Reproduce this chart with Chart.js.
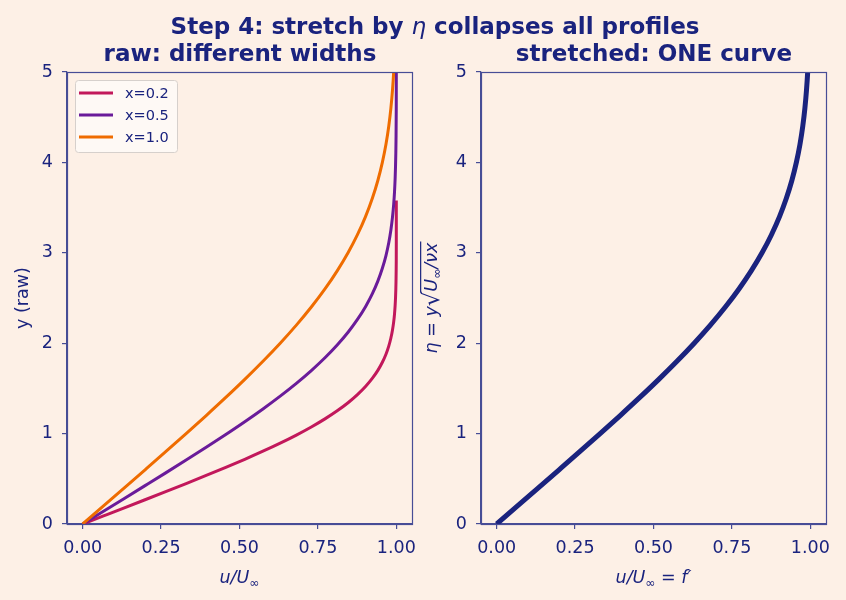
<!DOCTYPE html>
<html>
<head>
<meta charset="utf-8">
<script src="https://cdn.jsdelivr.net/npm/chart.js@4.4.1/dist/chart.umd.min.js"></script>
<style>
  html, body { margin: 0; padding: 0; background: #fdf0e6; }
  #fig { position: relative; width: 846px; height: 600px; background: #fdf0e6; overflow: hidden;
         font-family: 'DejaVu Sans', sans-serif; color: #1a237e; }
  #fig canvas { position: absolute; top: 0; }
  .ttl { position: absolute; font-weight: bold; white-space: nowrap; transform: translateX(-50%);
         font-size: 23px; line-height: 1; }
</style>
</head>
<body>
<div id="fig">
  <canvas id="rawChart" width="430" height="600" style="left:0"></canvas>
  <canvas id="etaChart" width="434" height="600" style="left:412px"></canvas>
  <div class="ttl" style="left:435px; top:15px">Step 4: stretch by <i style="font-weight:normal">η</i> collapses all profiles</div>
  <div class="ttl" style="left:240px; top:42px">raw: different widths</div>
  <div class="ttl" style="left:654px; top:42px">stretched: ONE curve</div>
</div>
<script>
// ── Data (Blasius profile) ──────────────────────────────────────────────────
const X_STATIONS     = ['x=0.2', 'x=0.5', 'x=1.0'];
const STATION_COLORS = ['#c2185b', '#6a1b9a', '#ef6c00'];

const ETA    = [0, 0.2, 0.4, 0.6, 0.8, 1.0, 1.2, 1.4, 1.6, 1.8, 2.0, 2.2, 2.4, 2.6, 2.8, 3.0, 3.2,
                3.4, 3.6, 3.8, 4.0, 4.2, 4.4, 4.6, 4.8, 5.0, 5.2, 5.4, 5.6, 5.8, 6.0, 6.5, 7.0, 8.0];
const FPRIME = [0, 0.0664, 0.1328, 0.1989, 0.2647, 0.3298, 0.3938, 0.4563, 0.5168, 0.5748, 0.6298,
                0.6813, 0.7290, 0.7725, 0.8115, 0.8461, 0.8761, 0.9018, 0.9233, 0.9411, 0.9555,
                0.9670, 0.9759, 0.9827, 0.9878, 0.9916, 0.9943, 0.9962, 0.9975, 0.9984, 0.9990,
                0.9998, 0.99996, 1.0];

// raw wall distance y for each station
const Y_X02 = [0, 0.0894, 0.1789, 0.2683, 0.3578, 0.4472, 0.5367, 0.6261, 0.7155, 0.8050, 0.8944,
               0.9839, 1.0733, 1.1628, 1.2522, 1.3416, 1.4311, 1.5205, 1.6100, 1.6994, 1.7889,
               1.8783, 1.9677, 2.0572, 2.1466, 2.2361, 2.3255, 2.4150, 2.5044, 2.5938, 2.6833,
               2.9069, 3.1305, 3.5777];
const Y_X05 = [0, 0.1414, 0.2828, 0.4243, 0.5657, 0.7071, 0.8485, 0.9900, 1.1314, 1.2728, 1.4142,
               1.5556, 1.6971, 1.8385, 1.9799, 2.1213, 2.2627, 2.4042, 2.5456, 2.6870, 2.8284,
               2.9698, 3.1113, 3.2527, 3.3941, 3.5355, 3.6770, 3.8184, 3.9598, 4.1012, 4.2426,
               4.5962, 4.9497, 5.6569];
const Y_X10 = [0, 0.2, 0.4, 0.6, 0.8, 1.0, 1.2, 1.4, 1.6, 1.8, 2.0, 2.2, 2.4, 2.6, 2.8, 3.0, 3.2,
               3.4, 3.6, 3.8, 4.0, 4.2, 4.4, 4.6, 4.8, 5.0, 5.2, 5.4, 5.6, 5.8, 6.0, 6.5, 7.0, 8.0];

const U_TICKS = [0, 0.25, 0.5, 0.75, 1.0];
const Y_TICKS = [0, 1, 2, 3, 4, 5];

// ── Style ────────────────────────────────────────────────────────────────────
const NAVY  = '#1a237e';
const SPINE = '#474d96';
const FONT  = "'DejaVu Sans'";
const TICK_SIZE = 17.5;

Chart.defaults.font.family = FONT;
Chart.defaults.font.size   = TICK_SIZE;
Chart.defaults.color       = NAVY;

// ── Helpers ──────────────────────────────────────────────────────────────────
function drawMath(ctx, parts, cx, cy, size, vertical) {
  ctx.save();
  ctx.translate(cx, cy);
  if (vertical) ctx.rotate(-Math.PI / 2);
  const fontOf = p => (p.it ? 'italic ' : '') + (size * (p.scale || 1)) + 'px ' + FONT;
  let total = 0;
  parts.forEach(p => { ctx.font = fontOf(p); p.w = ctx.measureText(p.t).width; total += p.w; });
  let x = -total / 2;
  const base = size * 0.36;
  ctx.fillStyle = NAVY;
  ctx.textAlign = 'left';
  ctx.textBaseline = 'alphabetic';
  let barStart = null, barTop = 0;
  parts.forEach(p => {
    ctx.font = fontOf(p);
    const y = base + (p.dy || 0) * size;
    ctx.fillText(p.t, x, y);
    if (p.root) {
      barTop = y - ctx.measureText(p.t).actualBoundingBoxAscent;
      barStart = x + p.w - 1;
    }
    x += p.w;
  });
  if (barStart !== null) {
    ctx.strokeStyle = NAVY;
    ctx.lineWidth = 1.2;
    ctx.beginPath();
    ctx.moveTo(barStart, barTop + 0.6);
    ctx.lineTo(x + 1, barTop + 0.6);
    ctx.stroke();
  }
  ctx.restore();
}

function drawLegend(chart) {
  const { ctx, chartArea: a } = chart;
  const x0 = a.left + 8, y0 = a.top + 8, w = 102, h = 72;
  ctx.save();
  ctx.beginPath();
  ctx.roundRect(x0 + 0.5, y0 + 0.5, w, h, 3);
  ctx.fillStyle = 'rgba(255,255,255,0.6)';
  ctx.fill();
  ctx.strokeStyle = '#d6d0cc';
  ctx.lineWidth = 1;
  ctx.stroke();
  ctx.font = '14.5px ' + FONT;
  ctx.textBaseline = 'middle';
  ctx.textAlign = 'left';
  chart.data.datasets.forEach((ds, i) => {
    const cy = y0 + 13 + i * 22;
    ctx.strokeStyle = ds.borderColor;
    ctx.lineWidth = 3;
    ctx.beginPath();
    ctx.moveTo(x0 + 4, cy);
    ctx.lineTo(x0 + 38, cy);
    ctx.stroke();
    ctx.fillStyle = NAVY;
    ctx.fillText(ds.label, x0 + 50, cy + 1);
  });
  ctx.restore();
}

function decorPlugin(xParts, yParts, yLabelX, withLegend) {
  return {
    id: 'decor',
    afterDatasetsDraw(chart) {
      const { ctx, chartArea: a } = chart;
      ctx.save();
      ctx.strokeStyle = SPINE;
      ctx.lineWidth = 1.2;
      ctx.strokeRect(Math.round(a.left) + 0.5, Math.round(a.top) + 0.5,
                     Math.round(a.right - a.left), Math.round(a.bottom - a.top));
      ctx.restore();
      if (withLegend) drawLegend(chart);
      const midX = (a.left + a.right) / 2, midY = (a.top + a.bottom) / 2;
      drawMath(ctx, xParts, midX, 577, 17.5, false);
      drawMath(ctx, yParts, yLabelX, midY, 17.5, true);
    },
  };
}

function xScale(fitH) {
  return {
    type: 'linear', min: -0.05, max: 1.05,
    afterBuildTicks: s => { s.ticks = U_TICKS.map(v => ({ value: v })); },
    afterFit: s => { s.height = fitH; },
    ticks: { callback: v => v.toFixed(2), padding: 9, maxRotation: 0, autoSkip: false },
    grid: { drawOnChartArea: false, tickLength: 5, tickColor: SPINE, lineWidth: 1.2 },
    border: { color: SPINE, width: 1.2 },
  };
}

function yScale(fitW) {
  return {
    type: 'linear', min: 0, max: 5,
    afterBuildTicks: s => { s.ticks = Y_TICKS.map(v => ({ value: v })); },
    afterFit: s => { s.width = fitW; },
    ticks: { callback: v => String(v), padding: 9, autoSkip: false },
    grid: { drawOnChartArea: false, tickLength: 5, tickColor: SPINE, lineWidth: 1.2 },
    border: { color: SPINE, width: 1.2 },
  };
}

function lineSet(label, xs, ys, color, width, order) {
  return {
    label,
    data: ys.map((y, k) => ({ x: xs[k], y })),
    borderColor: color,
    backgroundColor: color,
    borderWidth: width,
    pointRadius: 0,
    showLine: true,
    fill: false,
    cubicInterpolationMode: 'monotone',
    clip: 0,
    order,
  };
}

// ── Left: raw profiles ───────────────────────────────────────────────────────
const RAW_Y = [Y_X02, Y_X05, Y_X10];
new Chart(document.getElementById('rawChart'), {
  type: 'scatter',
  data: {
    datasets: RAW_Y.map((ys, i) => lineSet(X_STATIONS[i], FPRIME, ys, STATION_COLORS[i], 3, 3 - i)),
  },
  options: {
    responsive: false,
    animation: false,
    layout: { padding: { top: 72, right: 18, left: 0, bottom: 0 } },
    plugins: { legend: { display: false }, tooltip: { enabled: false } },
    scales: { x: xScale(76), y: yScale(67) },
  },
  plugins: [decorPlugin(
    [{ t: 'u/U', it: 1 }, { t: '∞', scale: 0.7, dy: 0.2 }],
    [{ t: 'y (raw)' }],
    22, true)],
});

// ── Right: similarity curve ─────────────────────────────────────────────────
new Chart(document.getElementById('etaChart'), {
  type: 'scatter',
  data: {
    datasets: [lineSet('f′(η)', FPRIME, ETA, NAVY, 5, 1)],
  },
  options: {
    responsive: false,
    animation: false,
    layout: { padding: { top: 72, right: 20, left: 0, bottom: 0 } },
    plugins: { legend: { display: false }, tooltip: { enabled: false } },
    scales: { x: xScale(76), y: yScale(69) },
  },
  plugins: [decorPlugin(
    [{ t: 'u/U', it: 1 }, { t: '∞', scale: 0.7, dy: 0.2 }, { t: ' = ' }, { t: 'f′', it: 1 }],
    [{ t: 'η', it: 1 }, { t: ' = ' }, { t: 'y', it: 1 }, { t: '√', root: 1, scale: 1.3, dy: 0.1 },
     { t: 'U', it: 1 }, { t: '∞', scale: 0.7, dy: 0.2 }, { t: '/', it: 1 }, { t: 'ν', it: 1 }, { t: 'x', it: 1 }],
    19, false)],
});
</script>
</body>
</html>
